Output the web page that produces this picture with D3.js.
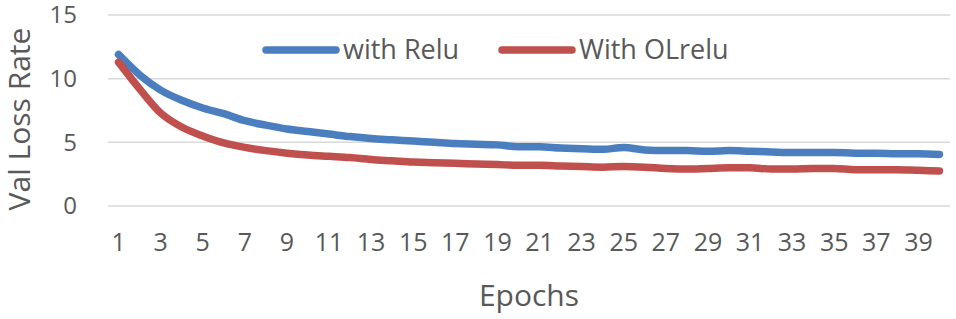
<!DOCTYPE html>
<html>
<head>
<meta charset="utf-8">
<script src="https://cdn.jsdelivr.net/npm/d3@7"></script>
<style>
  body { margin: 0; background: #fff; }
  svg { display: block; font-family: "Open Sans", "Noto Sans", sans-serif; }
</style>
</head>
<body>
<div id="chart"></div>
<script>
// values
var epochs = d3.range(1, 41);
var reluLoss = [11.9, 10.3, 9.1, 8.3, 7.7, 7.25, 6.7, 6.35, 6.05, 5.85,
    5.65, 5.45, 5.3, 5.2, 5.1, 5.0, 4.9, 4.85, 4.8, 4.65,
    4.65, 4.55, 4.5, 4.45, 4.6, 4.4, 4.35, 4.35, 4.3, 4.35,
    4.3, 4.25, 4.2, 4.2, 4.2, 4.15, 4.15, 4.1, 4.1, 4.05];
var olreluLoss = [11.3, 9.2, 7.3, 6.2, 5.5, 4.95, 4.6, 4.35, 4.15, 4.0,
    3.9, 3.8, 3.65, 3.55, 3.45, 3.4, 3.35, 3.3, 3.25, 3.2,
    3.2, 3.15, 3.1, 3.05, 3.1, 3.05, 2.95, 2.9, 2.95, 3.0,
    3.0, 2.9, 2.9, 2.95, 2.95, 2.85, 2.85, 2.85, 2.8, 2.75];
var seriesNames = ["with Relu", "With OLrelu"];
var seriesColors = ["#4a7ebf", "#c0504d"];
var yTicks = [0, 5, 10, 15];

var width = 956, height = 319;
var margin = { top: 15, right: 6, bottom: 113, left: 108 };
var innerW = width - margin.left - margin.right,
    innerH = height - margin.top - margin.bottom;

var svg = d3.select("#chart").append("svg")
    .attr("width", width)
    .attr("height", height);

var g = svg.append("g")
    .attr("transform", "translate(" + margin.left + "," + margin.top + ")");

var x = d3.scaleBand()
    .domain(epochs)
    .range([0, innerW]);

var y = d3.scaleLinear()
    .domain([0, 15])
    .range([innerH, 0]);

// gridlines
g.append("g")
    .selectAll("line")
    .data(yTicks)
    .enter()
    .append("line")
    .attr("x1", 0)
    .attr("x2", innerW)
    .attr("y1", d => y(d))
    .attr("y2", d => y(d))
    .attr("stroke", "#d9d9d9")
    .attr("stroke-width", 1.5);

// y axis labels
var yAxis = g.append("g")
    .call(d3.axisLeft(y).tickValues(yTicks).tickSize(0).tickPadding(31));
yAxis.select(".domain").remove();
yAxis.selectAll("text")
    .style("font-size", "24px")
    .style("font-family", "'Open Sans', sans-serif")
    .attr("fill", "#595959");

// x axis labels
var xAxis = g.append("g")
    .attr("transform", "translate(0," + innerH + ")")
    .call(d3.axisBottom(x).tickValues(epochs.filter(d => d % 2 == 1)).tickSize(0).tickPadding(27));
xAxis.select(".domain").remove();
xAxis.selectAll("text")
    .style("font-size", "25px")
    .style("font-family", "'Open Sans', sans-serif")
    .attr("fill", "#595959");

// lines
var line = d3.line()
    .x((d, i) => x(epochs[i]) + x.bandwidth() / 2)
    .y(d => y(d))
    .curve(d3.curveMonotoneX);

[reluLoss, olreluLoss].forEach(function (values, i) {
    g.append("path")
        .datum(values)
        .attr("fill", "none")
        .attr("stroke", seriesColors[i])
        .attr("stroke-width", 7.5)
        .attr("stroke-linecap", "round")
        .attr("stroke-linejoin", "round")
        .attr("d", line);
});

// legend
var legendX = [266, 502];
var legend = svg.selectAll(".legend")
    .data(seriesNames)
    .enter()
    .append("g")
    .attr("class", "legend")
    .attr("transform", (d, i) => "translate(" + legendX[i] + ",50)");

legend.append("line")
    .attr("x1", 0)
    .attr("x2", 70)
    .attr("stroke", (d, i) => seriesColors[i])
    .attr("stroke-width", 7.5)
    .attr("stroke-linecap", "round");

legend.append("text")
    .attr("x", 77)
    .attr("dy", "0.35em")
    .style("font-size", "27px")
    .attr("fill", "#595959")
    .text(d => d);

// axis titles
svg.append("text")
    .attr("x", 529)
    .attr("y", 306)
    .attr("text-anchor", "middle")
    .style("font-size", "30px")
    .attr("fill", "#595959")
    .text("Epochs");

svg.append("text")
    .attr("transform", "translate(30,119) rotate(-90)")
    .attr("text-anchor", "middle")
    .style("font-size", "30px")
    .attr("fill", "#595959")
    .text("Val Loss Rate");
</script>
</body>
</html>
